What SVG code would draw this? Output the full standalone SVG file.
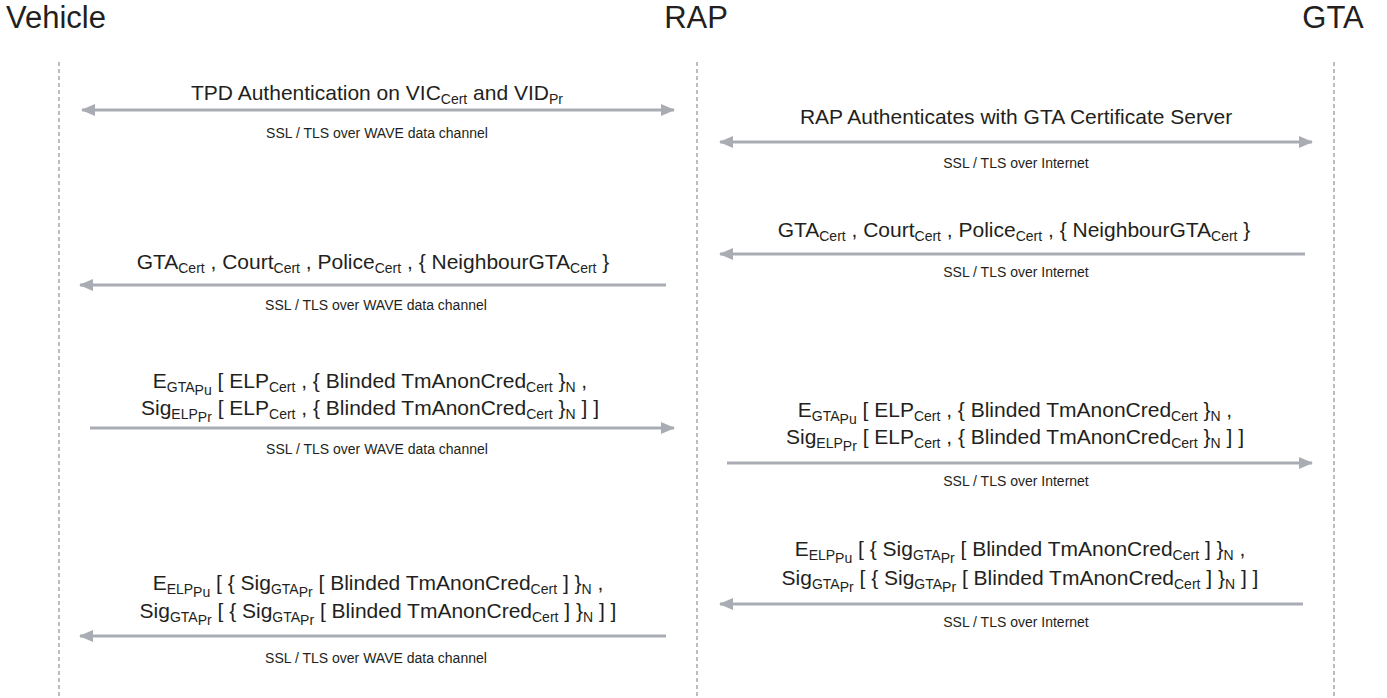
<svg xmlns="http://www.w3.org/2000/svg" width="1387" height="698" viewBox="0 0 1387 698">
<defs>
<marker id="ah" markerUnits="userSpaceOnUse" markerWidth="14" markerHeight="12" refX="13" refY="6" orient="auto-start-reverse"><path d="M0,0 L14,6 L0,12 Z" fill="#a9adb3"/></marker>
<style>
text{font-family:"Liberation Sans",Arial,sans-serif;fill:#231f20}
.h{font-size:31px}
.m{font-size:21px;text-anchor:middle}
.s{font-size:14px}
.t{font-size:14px;text-anchor:middle}
.life{stroke:#9a9a9a;stroke-width:1.3;stroke-dasharray:4 3;fill:none}
.msg{stroke:#a9adb3;stroke-width:3;fill:none}
</style>
</defs>
<rect width="1387" height="698" fill="#fff"/>
<g id="vehicle"><text class="h" x="6" y="28">Vehicle</text><line class="life" x1="59" y1="62" x2="59" y2="698"/></g>
<g id="rap"><text class="h" x="696" y="28" text-anchor="middle">RAP</text><line class="life" x1="697" y1="62" x2="697" y2="698"/></g>
<g id="gta"><text class="h" x="1333" y="28" text-anchor="middle">GTA</text><line class="life" x1="1334" y1="62" x2="1334" y2="698"/></g>
<g id="connectors">
<g id="m1">
<line class="msg" x1="82" y1="110" x2="674" y2="110" marker-start="url(#ah)" marker-end="url(#ah)"/>
<text class="m" x="377" y="100">TPD Authentication on VIC<tspan class="s" dy="4">Cert</tspan><tspan dy="-4"> and VID</tspan><tspan class="s" dy="4">Pr</tspan></text>
<text class="t" x="377" y="138">SSL / TLS over WAVE data channel</text>
</g>
<g id="m2">
<line class="msg" x1="720" y1="142" x2="1312" y2="142" marker-start="url(#ah)" marker-end="url(#ah)"/>
<text class="m" x="1016" y="124">RAP Authenticates with GTA Certificate Server</text>
<text class="t" x="1016" y="168">SSL / TLS over Internet</text>
</g>
<g id="m3">
<line class="msg" x1="1305" y1="254" x2="720" y2="254" marker-end="url(#ah)"/>
<text class="m" x="1014" y="237">GTA<tspan class="s" dy="4">Cert</tspan><tspan dy="-4"> , Court</tspan><tspan class="s" dy="4">Cert</tspan><tspan dy="-4"> , Police</tspan><tspan class="s" dy="4">Cert</tspan><tspan dy="-4"> , { NeighbourGTA</tspan><tspan class="s" dy="4">Cert</tspan><tspan dy="-4"> }</tspan></text>
<text class="t" x="1016" y="277">SSL / TLS over Internet</text>
</g>
<g id="m4">
<line class="msg" x1="666" y1="285" x2="80" y2="285" marker-end="url(#ah)"/>
<text class="m" x="373" y="269">GTA<tspan class="s" dy="4">Cert</tspan><tspan dy="-4"> , Court</tspan><tspan class="s" dy="4">Cert</tspan><tspan dy="-4"> , Police</tspan><tspan class="s" dy="4">Cert</tspan><tspan dy="-4"> , { NeighbourGTA</tspan><tspan class="s" dy="4">Cert</tspan><tspan dy="-4"> }</tspan></text>
<text class="t" x="376" y="310">SSL / TLS over WAVE data channel</text>
</g>
<g id="m5">
<line class="msg" x1="90" y1="428" x2="674" y2="428" marker-end="url(#ah)"/>
<text class="m" x="370" y="388">E<tspan class="s" dy="4">GTA</tspan><tspan class="s" dy="3">Pu</tspan><tspan dy="-7"> [ ELP</tspan><tspan class="s" dy="4">Cert</tspan><tspan dy="-4"> , { Blinded TmAnonCred</tspan><tspan class="s" dy="4">Cert</tspan><tspan dy="-4"> }</tspan><tspan class="s" dy="4">N</tspan><tspan dy="-4"> ,</tspan></text>
<text class="m" x="370" y="415">Sig<tspan class="s" dy="4">ELP</tspan><tspan class="s" dy="3">Pr</tspan><tspan dy="-7"> [ ELP</tspan><tspan class="s" dy="4">Cert</tspan><tspan dy="-4"> , { Blinded TmAnonCred</tspan><tspan class="s" dy="4">Cert</tspan><tspan dy="-4"> }</tspan><tspan class="s" dy="4">N</tspan><tspan dy="-4"> ] ]</tspan></text>
<text class="t" x="377" y="454">SSL / TLS over WAVE data channel</text>
</g>
<g id="m6">
<line class="msg" x1="727" y1="463" x2="1312" y2="463" marker-end="url(#ah)"/>
<text class="m" x="1015" y="417">E<tspan class="s" dy="4">GTA</tspan><tspan class="s" dy="3">Pu</tspan><tspan dy="-7"> [ ELP</tspan><tspan class="s" dy="4">Cert</tspan><tspan dy="-4"> , { Blinded TmAnonCred</tspan><tspan class="s" dy="4">Cert</tspan><tspan dy="-4"> }</tspan><tspan class="s" dy="4">N</tspan><tspan dy="-4"> ,</tspan></text>
<text class="m" x="1015" y="444">Sig<tspan class="s" dy="4">ELP</tspan><tspan class="s" dy="3">Pr</tspan><tspan dy="-7"> [ ELP</tspan><tspan class="s" dy="4">Cert</tspan><tspan dy="-4"> , { Blinded TmAnonCred</tspan><tspan class="s" dy="4">Cert</tspan><tspan dy="-4"> }</tspan><tspan class="s" dy="4">N</tspan><tspan dy="-4"> ] ]</tspan></text>
<text class="t" x="1016" y="486">SSL / TLS over Internet</text>
</g>
<g id="m7">
<line class="msg" x1="1303" y1="604" x2="720" y2="604" marker-end="url(#ah)"/>
<text class="m" x="1020" y="556">E<tspan class="s" dy="4">ELP</tspan><tspan class="s" dy="3">Pu</tspan><tspan dy="-7"> [ { Sig</tspan><tspan class="s" dy="4">GTA</tspan><tspan class="s" dy="3">Pr</tspan><tspan dy="-7"> [ Blinded TmAnonCred</tspan><tspan class="s" dy="4">Cert</tspan><tspan dy="-4">  ] }</tspan><tspan class="s" dy="4">N</tspan><tspan dy="-4"> ,</tspan></text>
<text class="m" x="1020" y="585">Sig<tspan class="s" dy="4">GTA</tspan><tspan class="s" dy="3">Pr</tspan><tspan dy="-7"> [ { Sig</tspan><tspan class="s" dy="4">GTA</tspan><tspan class="s" dy="3">Pr</tspan><tspan dy="-7"> [ Blinded TmAnonCred</tspan><tspan class="s" dy="4">Cert</tspan><tspan dy="-4">  ] }</tspan><tspan class="s" dy="4">N</tspan><tspan dy="-4">  ] ]</tspan></text>
<text class="t" x="1016" y="627">SSL / TLS over Internet</text>
</g>
<g id="m8">
<line class="msg" x1="666" y1="636" x2="80" y2="636" marker-end="url(#ah)"/>
<text class="m" x="378" y="590">E<tspan class="s" dy="4">ELP</tspan><tspan class="s" dy="3">Pu</tspan><tspan dy="-7"> [ { Sig</tspan><tspan class="s" dy="4">GTA</tspan><tspan class="s" dy="3">Pr</tspan><tspan dy="-7"> [ Blinded TmAnonCred</tspan><tspan class="s" dy="4">Cert</tspan><tspan dy="-4">  ] }</tspan><tspan class="s" dy="4">N</tspan><tspan dy="-4"> ,</tspan></text>
<text class="m" x="378" y="618">Sig<tspan class="s" dy="4">GTA</tspan><tspan class="s" dy="3">Pr</tspan><tspan dy="-7"> [ { Sig</tspan><tspan class="s" dy="4">GTA</tspan><tspan class="s" dy="3">Pr</tspan><tspan dy="-7"> [ Blinded TmAnonCred</tspan><tspan class="s" dy="4">Cert</tspan><tspan dy="-4">  ] }</tspan><tspan class="s" dy="4">N</tspan><tspan dy="-4">  ] ]</tspan></text>
<text class="t" x="376" y="663">SSL / TLS over WAVE data channel</text>
</g>
</g>
</svg>
